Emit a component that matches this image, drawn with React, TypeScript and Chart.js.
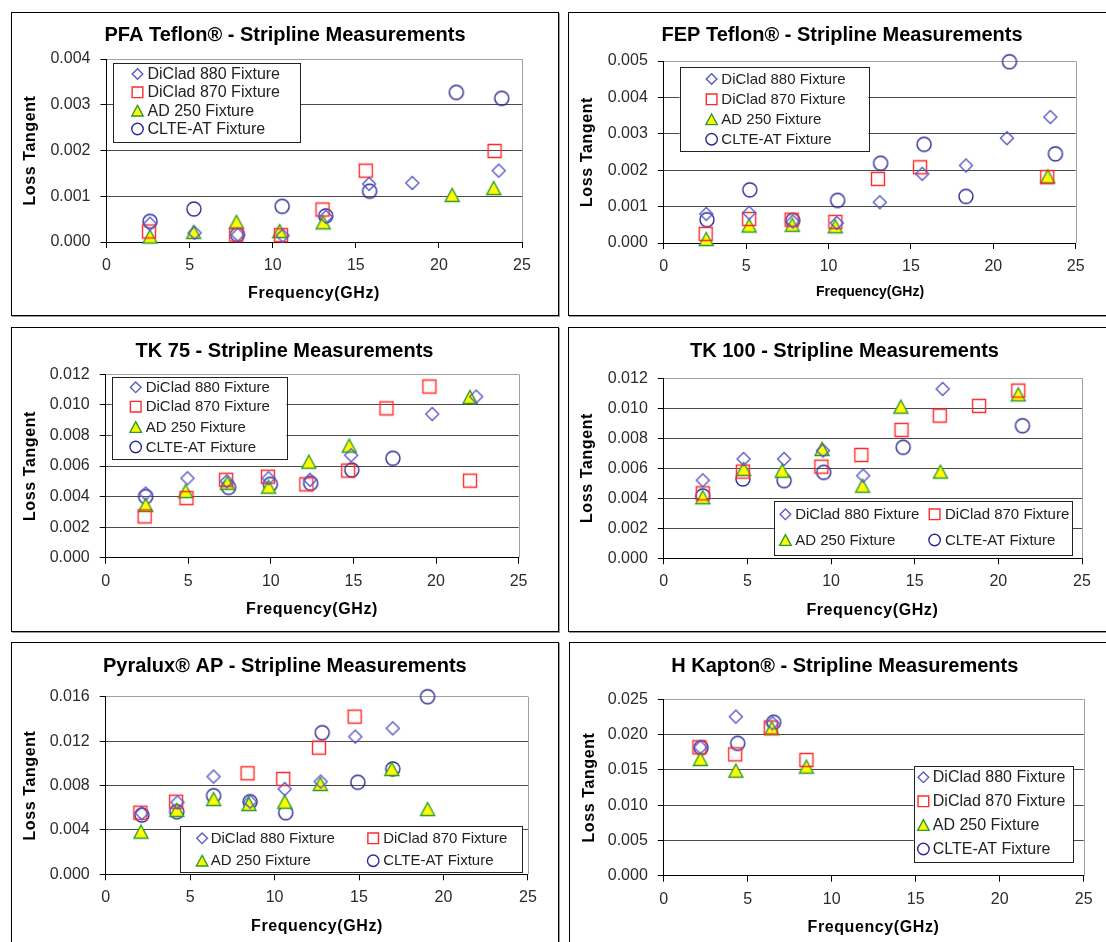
import React, { useEffect, useRef } from 'react';
import { Chart, registerables } from 'chart.js';

Chart.register(...registerables);

const FONT = '"Liberation Sans", Arial, Helvetica, sans-serif';

// ---- Data (x = Frequency GHz, y = Loss Tangent) ----
type Pt = [number, number];

const SERIES_NAMES = ['DiClad 880 Fixture', 'DiClad 870 Fixture', 'AD 250 Fixture', 'CLTE-AT Fixture'];
const X_TICK_MAX = 25;
const X_TICK_STEP = 5;
const Y_AXIS_TITLE = 'Loss Tangent';
const X_AXIS_TITLE = 'Frequency(GHz)';

const PFA_DICLAD880: Pt[] = [[2.62, 0.0004], [5.3, 0.0002], [7.9, 0.00016], [10.6, 0.00014], [13.2, 0.00055], [15.8, 0.00127], [18.4, 0.00129], [23.6, 0.00156]];
const PFA_DICLAD870: Pt[] = [[2.56, 0.00023], [7.8, 0.00016], [10.5, 0.00015], [13.0, 0.00071], [15.6, 0.00156], [23.35, 0.00199]];
const PFA_AD250: Pt[] = [[2.62, 0.00012], [5.24, 0.00022], [7.82, 0.00044], [10.42, 0.00024], [13.04, 0.00043], [20.8, 0.00103], [23.3, 0.00118]];
const PFA_CLTEAT: Pt[] = [[2.62, 0.00045], [5.26, 0.00072], [7.88, 0.00016], [10.57, 0.00078], [13.19, 0.00057], [15.83, 0.00111], [21.05, 0.00327], [23.78, 0.00314]];

const FEP_DICLAD880: Pt[] = [[2.58, 0.0008], [5.18, 0.00083], [7.83, 0.00059], [10.5, 0.00055], [13.11, 0.00112], [15.69, 0.0019], [18.34, 0.00213], [20.83, 0.00288], [23.46, 0.00346]];
const FEP_DICLAD870: Pt[] = [[2.54, 0.00025], [5.18, 0.00066], [7.76, 0.00064], [10.41, 0.00058], [13.0, 0.00176], [15.55, 0.00208], [23.27, 0.00181]];
const FEP_AD250: Pt[] = [[2.58, 0.00011], [5.18, 0.00048], [7.8, 0.0005], [10.41, 0.00046], [23.3, 0.00183]];
const FEP_CLTEAT: Pt[] = [[2.62, 0.00064], [5.22, 0.00146], [7.83, 0.00062], [10.55, 0.00117], [13.16, 0.00219], [15.8, 0.00271], [18.34, 0.00128], [20.98, 0.00498], [23.77, 0.00245]];

const TK75_DICLAD880: Pt[] = [[2.42, 0.0042], [4.95, 0.0052], [7.33, 0.005], [9.86, 0.0052], [12.37, 0.0051], [14.86, 0.0067], [19.77, 0.0094], [22.43, 0.01054]];
const TK75_DICLAD870: Pt[] = [[2.36, 0.0027], [4.89, 0.0039], [7.29, 0.0051], [9.82, 0.0053], [12.15, 0.0048], [14.68, 0.0057], [17.0, 0.00977], [19.6, 0.0112], [22.06, 0.00504]];
const TK75_AD250: Pt[] = [[2.42, 0.00345], [4.84, 0.00436], [7.37, 0.0049], [9.86, 0.00465], [12.3, 0.00628], [14.75, 0.00733], [22.06, 0.01052]];
const TK75_CLTEAT: Pt[] = [[2.42, 0.004], [7.44, 0.0046], [9.97, 0.0048], [12.41, 0.00487], [14.9, 0.00574], [17.39, 0.0065]];

const TK100_DICLAD880: Pt[] = [[2.33, 0.0052], [4.77, 0.00662], [7.19, 0.00662], [9.52, 0.00718], [11.92, 0.00551], [16.67, 0.01129]];
const TK100_DICLAD870: Pt[] = [[2.33, 0.00433], [4.73, 0.00578], [9.42, 0.00611], [11.81, 0.00689], [14.21, 0.00856], [16.5, 0.00951], [18.85, 0.01016], [21.19, 0.01118]];
const TK100_AD250: Pt[] = [[2.33, 0.00407], [4.77, 0.00596], [7.08, 0.00584], [9.46, 0.00729], [11.88, 0.00484], [14.17, 0.01011], [16.54, 0.00578], [21.19, 0.01093]];
const TK100_CLTEAT: Pt[] = [[2.33, 0.00416], [4.73, 0.00529], [7.19, 0.00518], [9.56, 0.00573], [14.31, 0.0074], [21.44, 0.00884]];

const PYR_DICLAD880: Pt[] = [[2.14, 0.0055], [4.25, 0.00648], [6.39, 0.0088], [8.55, 0.00654], [10.6, 0.00768], [12.73, 0.00835], [14.78, 0.0124], [17.0, 0.01315]];
const PYR_DICLAD870: Pt[] = [[2.05, 0.00555], [4.17, 0.00654], [8.4, 0.0091], [10.51, 0.00859], [12.63, 0.01141], [14.74, 0.0142]];
const PYR_AD250: Pt[] = [[2.09, 0.00384], [4.21, 0.0058], [6.39, 0.00678], [8.48, 0.00633], [10.6, 0.00654], [12.71, 0.00814], [16.94, 0.00949], [19.06, 0.00588]];
const PYR_CLTEAT: Pt[] = [[2.14, 0.00534], [4.21, 0.00564], [6.39, 0.00708], [8.55, 0.00654], [10.66, 0.00555], [12.82, 0.01276], [14.93, 0.00829], [17.0, 0.00949], [19.06, 0.016]];

const KAP_DICLAD880: Pt[] = [[2.18, 0.0182], [4.29, 0.02254], [6.47, 0.0216]];
const KAP_DICLAD870: Pt[] = [[2.12, 0.0182], [4.25, 0.0172], [6.37, 0.021], [8.49, 0.0164]];
const KAP_AD250: Pt[] = [[2.18, 0.01654], [4.29, 0.01489], [6.43, 0.02089], [8.49, 0.01545]];
const KAP_CLTEAT: Pt[] = [[2.22, 0.01815], [4.4, 0.01876], [6.54, 0.02174]];

// ---- Layout / style ----
type LegendItem = [number, number, number]; // marker x, text x, y (page coords)
interface Panel {
  title: string;
  box: [number, number, number, number];
  plot: [number, number, number, number];
  yMax: number;
  yStep: number;
  series: Pt[][];
  titlePos: [number, number];
  yTitlePos: [number, number];
  xTitlePos: [number, number];
  xTitleSize: number;
  xTitleSpacing: number;
  legendBox: [number, number, number, number];
  legendFont: number;
  legendItems: LegendItem[];
}

const col4 = (mx: number, tx: number, ys: number[]): LegendItem[] => ys.map((y) => [mx, tx, y]);

const PANELS: Panel[] = [
  {
    title: 'PFA Teflon® - Stripline Measurements',
    box: [11, 12, 559, 316], plot: [106.5, 59, 522, 242], yMax: 0.004, yStep: 0.001,
    series: [PFA_DICLAD880, PFA_DICLAD870, PFA_AD250, PFA_CLTEAT],
    titlePos: [285, 35], yTitlePos: [31, 150.5], xTitlePos: [314, 294], xTitleSize: 16, xTitleSpacing: 0.6,
    legendBox: [113, 63, 300, 142], legendFont: 16, legendItems: col4(137.5, 147.5, [74, 92.3, 110.7, 129]),
  },
  {
    title: 'FEP Teflon® - Stripline Measurements',
    box: [568, 12, 1117, 316], plot: [663.8, 61, 1075.7, 243], yMax: 0.005, yStep: 0.001,
    series: [FEP_DICLAD880, FEP_DICLAD870, FEP_AD250, FEP_CLTEAT],
    titlePos: [842, 35], yTitlePos: [588, 152], xTitlePos: [870, 291.7], xTitleSize: 14, xTitleSpacing: 0,
    legendBox: [679.5, 67.3, 868.4, 151], legendFont: 15, legendItems: col4(711.6, 721.3, [79, 99.3, 119.3, 139.3]),
  },
  {
    title: 'TK 75 - Stripline Measurements',
    box: [11, 327, 559, 632], plot: [105.7, 374.3, 518.6, 557.7], yMax: 0.012, yStep: 0.002,
    series: [TK75_DICLAD880, TK75_DICLAD870, TK75_AD250, TK75_CLTEAT],
    titlePos: [284.5, 351], yTitlePos: [30.4, 466], xTitlePos: [312, 609.3], xTitleSize: 16, xTitleSpacing: 0.6,
    legendBox: [111.8, 376.7, 286.4, 458.3], legendFont: 15, legendItems: col4(135.7, 145.7, [387.3, 406.7, 427, 447]),
  },
  {
    title: 'TK 100 - Stripline Measurements',
    box: [568, 327, 1117, 632], plot: [663.8, 378.3, 1082, 558.3], yMax: 0.012, yStep: 0.002,
    series: [TK100_DICLAD880, TK100_DICLAD870, TK100_AD250, TK100_CLTEAT],
    titlePos: [844.5, 351], yTitlePos: [588, 468], xTitlePos: [872.4, 610.7], xTitleSize: 16, xTitleSpacing: 0.6,
    legendBox: [774.3, 500.7, 1072.2, 555], legendFont: 15,
    legendItems: [[785.4, 795.2, 514.3], [934.6, 945, 514.3], [785.4, 795.2, 540], [934.6, 945, 540]],
  },
  {
    title: 'Pyralux® AP - Stripline Measurements',
    box: [11, 642, 559, 952], plot: [105.7, 696.7, 527.9, 874.3], yMax: 0.016, yStep: 0.004,
    series: [PYR_DICLAD880, PYR_DICLAD870, PYR_AD250, PYR_CLTEAT],
    titlePos: [284.8, 666], yTitlePos: [30.4, 785.5], xTitlePos: [317, 926.7], xTitleSize: 16, xTitleSpacing: 0.6,
    legendBox: [180.4, 826, 522.1, 872.3], legendFont: 15,
    legendItems: [[202.1, 210.7, 838.3], [373.2, 383.2, 838.3], [202.1, 210.7, 860.7], [373.2, 383.2, 860.7]],
  },
  {
    title: 'H Kapton® - Stripline Measurements',
    box: [569, 642, 1117, 952], plot: [663.8, 699.3, 1083.7, 875.7], yMax: 0.025, yStep: 0.005,
    series: [KAP_DICLAD880, KAP_DICLAD870, KAP_AD250, KAP_CLTEAT],
    titlePos: [844.8, 666], yTitlePos: [589.6, 787.5], xTitlePos: [873.5, 927.3], xTitleSize: 16, xTitleSpacing: 0.6,
    legendBox: [913.7, 765.7, 1072.9, 861.7], legendFont: 16, legendItems: col4(923.4, 932.8, [777.3, 801.3, 825, 849]),
  },
];

const DIAMOND_COLOR = '#5a5ac8';
const SQUARE_COLOR = '#ff2a2a';
const TRI_FILL = '#ffff00';
const TRI_STROKE = '#2f9a2f';
const CIRCLE_COLOR = '#2a2a96';

function drawMarker(ctx: CanvasRenderingContext2D, kind: number, cx: number, cy: number, s: number) {
  ctx.save();
  ctx.lineWidth = 1.4;
  ctx.beginPath();
  if (kind === 0) {
    const r = 6.5 * s;
    ctx.moveTo(cx, cy - r);
    ctx.lineTo(cx + r, cy);
    ctx.lineTo(cx, cy + r);
    ctx.lineTo(cx - r, cy);
    ctx.closePath();
    ctx.strokeStyle = DIAMOND_COLOR;
    ctx.stroke();
  } else if (kind === 1) {
    const h = 6.5 * s;
    ctx.rect(cx - h, cy - h, 2 * h, 2 * h);
    ctx.strokeStyle = SQUARE_COLOR;
    ctx.stroke();
  } else if (kind === 2) {
    const w = 7 * s, h = 6.5 * s;
    ctx.moveTo(cx, cy - h);
    ctx.lineTo(cx + w, cy + h);
    ctx.lineTo(cx - w, cy + h);
    ctx.closePath();
    ctx.fillStyle = TRI_FILL;
    ctx.fill();
    ctx.lineWidth = 1.4;
    ctx.strokeStyle = TRI_STROKE;
    ctx.stroke();
  } else {
    ctx.arc(cx, cy, 7 * s, 0, Math.PI * 2);
    ctx.strokeStyle = CIRCLE_COLOR;
    ctx.stroke();
  }
  ctx.restore();
}

function markerImage(kind: number): HTMLCanvasElement {
  const c = document.createElement('canvas');
  c.width = 18;
  c.height = 18;
  const ctx = c.getContext('2d')!;
  drawMarker(ctx, kind, 9, 9, 1);
  return c;
}

function decorPlugin(p: Panel) {
  const L = p.box[0];
  const T = p.box[1];
  return {
    id: 'decor',
    afterDraw(chart: any) {
      const ctx: CanvasRenderingContext2D = chart.ctx;
      const a = chart.chartArea;
      ctx.save();
      // right border of plot area
      ctx.strokeStyle = '#a0a0a0';
      ctx.lineWidth = 1;
      ctx.beginPath();
      ctx.moveTo(Math.round(a.right) + 0.5, a.top);
      ctx.lineTo(Math.round(a.right) + 0.5, a.bottom);
      ctx.stroke();

      // title
      ctx.fillStyle = '#000';
      ctx.textAlign = 'center';
      ctx.textBaseline = 'middle';
      ctx.font = `bold 20px ${FONT}`;
      ctx.fillText(p.title, p.titlePos[0] - L, p.titlePos[1] - T);

      // x axis title
      ctx.font = `bold ${p.xTitleSize}px ${FONT}`;
      (ctx as any).letterSpacing = `${p.xTitleSpacing}px`;
      ctx.fillText(X_AXIS_TITLE, p.xTitlePos[0] - L, p.xTitlePos[1] - T);

      // y axis title
      ctx.font = `bold 16px ${FONT}`;
      (ctx as any).letterSpacing = '0.6px';
      ctx.save();
      ctx.translate(p.yTitlePos[0] - L, p.yTitlePos[1] - T);
      ctx.rotate(-Math.PI / 2);
      ctx.fillText(Y_AXIS_TITLE, 0, 0);
      ctx.restore();
      (ctx as any).letterSpacing = '0px';

      // legend
      const [bx0, by0, bx1, by1] = p.legendBox;
      ctx.fillStyle = '#fff';
      ctx.fillRect(bx0 - L, by0 - T, bx1 - bx0, by1 - by0);
      ctx.strokeStyle = '#222';
      ctx.lineWidth = 1;
      ctx.strokeRect(Math.round(bx0 - L) + 0.5, Math.round(by0 - T) + 0.5, Math.round(bx1 - bx0), Math.round(by1 - by0));
      ctx.font = `${p.legendFont}px ${FONT}`;
      ctx.textAlign = 'left';
      ctx.textBaseline = 'middle';
      p.legendItems.forEach((it, i) => {
        drawMarker(ctx, i, it[0] - L, it[2] - T, 0.82);
        ctx.fillStyle = '#222';
        ctx.fillText(SERIES_NAMES[i], it[1] - L, it[2] - T + 0.5);
      });
      ctx.restore();
    },
  };
}

function PanelChart({ p }: { p: Panel }) {
  const ref = useRef<HTMLCanvasElement | null>(null);
  const w = p.box[2] - p.box[0];
  const h = p.box[3] - p.box[1];
  useEffect(() => {
    const canvas = ref.current!;
    const [L, T] = p.box;
    const [pl, pt, pr, pb] = p.plot;
    const images = [0, 1, 2, 3].map((k) => markerImage(k));
    const chart = new Chart(canvas, {
      type: 'scatter',
      data: {
        datasets: p.series.map((s, i) => ({
          label: SERIES_NAMES[i],
          data: s.map(([x, y]) => ({ x, y })),
          pointStyle: images[i] as any,
          pointRadius: 7,
          pointHoverRadius: 7,
          showLine: false,
          clip: false,
        })),
      },
      options: {
        responsive: false,
        maintainAspectRatio: false,
        animation: false,
        devicePixelRatio: 1,
        events: [],
        layout: { padding: { left: 0, top: pt - T, right: w - (pr - L), bottom: 0 } },
        plugins: { legend: { display: false }, title: { display: false }, tooltip: { enabled: false } },
        scales: {
          x: {
            type: 'linear',
            min: 0,
            max: X_TICK_MAX,
            afterFit: (s: any) => { s.height = h - (pb - T); },
            ticks: { stepSize: X_TICK_STEP, font: { family: FONT, size: 16 }, color: '#2b2b2b', padding: 8, maxRotation: 0 },
            grid: { drawOnChartArea: false, drawTicks: true, tickLength: 6, tickColor: '#000' },
            border: { color: '#000', width: 1 },
          },
          y: {
            type: 'linear',
            min: 0,
            max: p.yMax,
            afterFit: (s: any) => { s.width = pl - L; },
            ticks: {
              stepSize: p.yStep,
              font: { family: FONT, size: 16 },
              color: '#2b2b2b',
              padding: 10,
              callback: (v: any) => Number(v).toFixed(3),
            },
            grid: {
              color: (c: any) => (c.tick && Math.abs(c.tick.value) < 1e-12 ? '#000' : (c.tick && Math.abs(c.tick.value - p.yMax) < 1e-9 ? '#a0a0a0' : '#4a4a4a')),
              tickLength: 6,
              tickColor: '#000',
            },
            border: { color: '#000', width: 1 },
          },
        },
      },
      plugins: [decorPlugin(p)],
    } as any);
    return () => chart.destroy();
  }, []);
  return (
    <>
      <div
        style={{
          position: 'absolute',
          left: p.box[0],
          top: p.box[1],
          width: w,
          height: h,
          border: '1px solid #000',
          boxSizing: 'border-box',
          boxShadow: '1px 1px 0 #999',
        }}
      />
      <canvas ref={ref} width={w} height={h} style={{ position: 'absolute', left: p.box[0], top: p.box[1], width: w, height: h }} />
    </>
  );
}

export default function App() {
  return (
    <div style={{ position: 'fixed', left: 0, top: 0, width: 1106, height: 942, overflow: 'hidden', background: '#fff' }}>
      {PANELS.map((p, i) => (
        <PanelChart key={i} p={p} />
      ))}
    </div>
  );
}
